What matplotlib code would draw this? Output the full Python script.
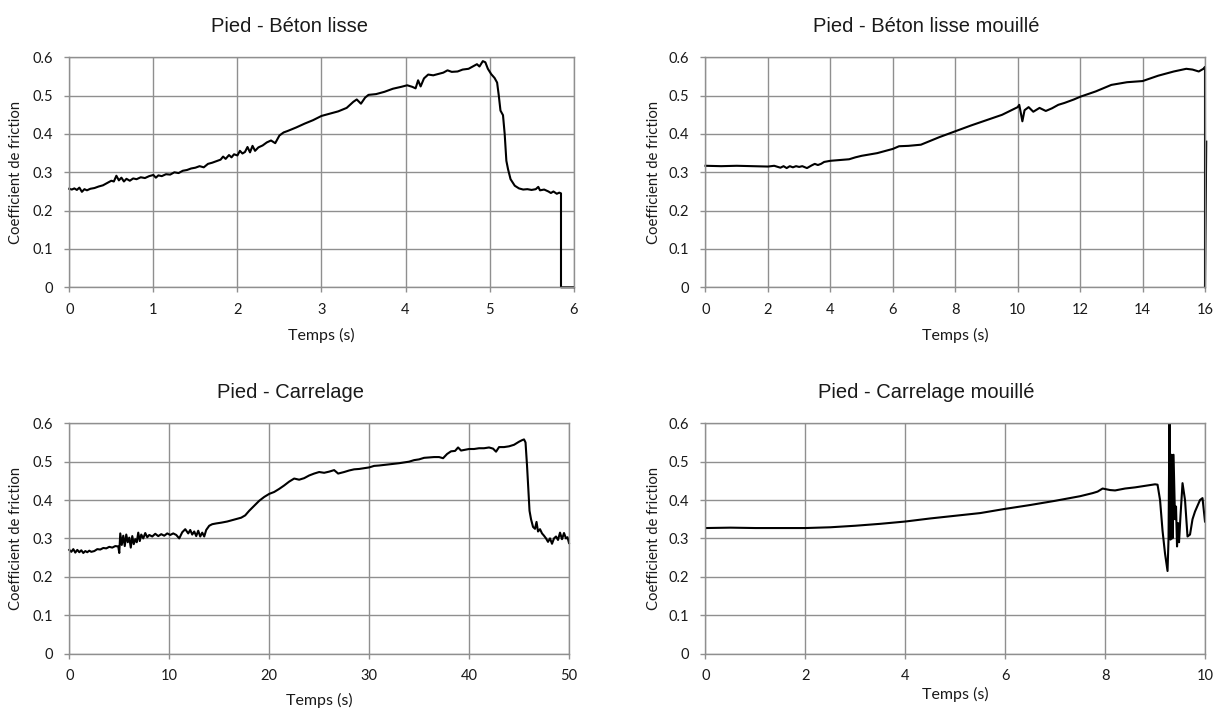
import matplotlib
matplotlib.use("Agg")
import matplotlib.pyplot as plt

# ---- Pied - Béton lisse ----
beton_t = [0.00, 0.03, 0.06, 0.09, 0.12, 0.15, 0.18, 0.21, 0.25, 0.30, 0.35, 0.40, 0.45, 0.50,
           0.53, 0.56, 0.59, 0.62, 0.65, 0.68, 0.72, 0.76, 0.80, 0.85, 0.90, 0.95, 1.00, 1.03,
           1.06, 1.10, 1.15, 1.20, 1.25, 1.30, 1.35, 1.40, 1.45, 1.50, 1.55, 1.60, 1.65, 1.70,
           1.75, 1.80, 1.83, 1.86, 1.90, 1.93, 1.96, 2.00, 2.03, 2.06, 2.09, 2.12, 2.15, 2.18,
           2.21, 2.25, 2.30, 2.35, 2.40, 2.45, 2.50, 2.55, 2.60, 2.70, 2.80, 2.90, 3.00, 3.10,
           3.20, 3.30, 3.38, 3.42, 3.47, 3.52, 3.56, 3.65, 3.75, 3.85, 3.95, 4.02, 4.08, 4.12,
           4.15, 4.18, 4.22, 4.27, 4.33, 4.40, 4.45, 4.50, 4.55, 4.62, 4.68, 4.75, 4.80, 4.85,
           4.88, 4.92, 4.95, 4.98, 5.02, 5.06, 5.09, 5.11, 5.13, 5.16, 5.18, 5.20, 5.22, 5.25,
           5.30, 5.35, 5.40, 5.45, 5.50, 5.55, 5.58, 5.60, 5.65, 5.70, 5.73, 5.76, 5.80, 5.83,
           5.85, 5.85, 6.00]
beton_mu = [0.257, 0.255, 0.258, 0.254, 0.260, 0.249, 0.256, 0.253, 0.257, 0.259, 0.263, 0.266,
            0.272, 0.278, 0.276, 0.291, 0.279, 0.286, 0.276, 0.283, 0.278, 0.284, 0.282, 0.287,
            0.285, 0.290, 0.293, 0.286, 0.292, 0.290, 0.295, 0.294, 0.300, 0.298, 0.304, 0.306,
            0.310, 0.312, 0.316, 0.313, 0.322, 0.325, 0.329, 0.333, 0.341, 0.335, 0.345, 0.339,
            0.347, 0.344, 0.356, 0.349, 0.353, 0.366, 0.352, 0.369, 0.356, 0.365, 0.370, 0.378,
            0.383, 0.376, 0.396, 0.404, 0.408, 0.417, 0.427, 0.436, 0.447, 0.453, 0.459, 0.468,
            0.484, 0.490, 0.479, 0.495, 0.502, 0.504, 0.510, 0.518, 0.523, 0.527, 0.523, 0.519,
            0.540, 0.524, 0.545, 0.555, 0.553, 0.557, 0.560, 0.566, 0.562, 0.563, 0.568, 0.570,
            0.576, 0.582, 0.576, 0.590, 0.587, 0.570, 0.556, 0.546, 0.534, 0.500, 0.461, 0.449,
            0.400, 0.330, 0.308, 0.282, 0.265, 0.258, 0.255, 0.256, 0.254, 0.256, 0.262, 0.253,
            0.255, 0.250, 0.246, 0.250, 0.244, 0.247, 0.245, 0.000, 0.000]

# ---- Pied - Béton lisse mouillé ----
beton_m_t = [0.0, 0.5, 1.0, 1.5, 2.0, 2.2, 2.4, 2.5, 2.6, 2.7, 2.8, 2.9, 3.0, 3.1, 3.25, 3.4,
             3.5, 3.6, 3.7, 3.8, 4.0, 4.3, 4.6, 4.8, 5.0, 5.5, 6.0, 6.2, 6.5, 6.9, 7.2, 7.5,
             8.0, 8.5, 9.0, 9.5, 9.8, 10.0, 10.05, 10.10, 10.15, 10.22, 10.35, 10.5, 10.7,
             10.9, 11.1, 11.3, 11.5, 11.8, 12.0, 12.5, 13.0, 13.5, 14.0, 14.5, 15.0, 15.4,
             15.6, 15.8, 15.95, 16.0, 16.0, 16.04]
beton_m_mu = [0.317, 0.316, 0.317, 0.316, 0.315, 0.317, 0.312, 0.316, 0.311, 0.316, 0.313,
              0.316, 0.314, 0.316, 0.311, 0.318, 0.322, 0.319, 0.322, 0.327, 0.330, 0.332,
              0.334, 0.339, 0.343, 0.350, 0.361, 0.368, 0.369, 0.372, 0.382, 0.392, 0.407,
              0.422, 0.436, 0.450, 0.462, 0.470, 0.476, 0.455, 0.433, 0.462, 0.470, 0.458,
              0.468, 0.460, 0.467, 0.476, 0.481, 0.490, 0.497, 0.511, 0.528, 0.535, 0.538,
              0.552, 0.563, 0.570, 0.568, 0.563, 0.570, 0.575, 0.000, 0.380]

# ---- Pied - Carrelage ----
carr_t = [0.0, 0.2, 0.4, 0.6, 0.8, 1.0, 1.2, 1.4, 1.6, 1.8, 2.0, 2.2, 2.5, 2.8, 3.1, 3.4, 3.7,
          4.0, 4.3, 4.6, 4.9, 5.0, 5.1, 5.25, 5.4, 5.55, 5.7, 5.85, 6.0, 6.15, 6.3, 6.45, 6.6,
          6.75, 6.9, 7.05, 7.2, 7.4, 7.6, 7.8, 8.0, 8.3, 8.6, 8.9, 9.2, 9.5, 9.8, 10.1, 10.4,
          10.7, 11.0, 11.3, 11.6, 11.9, 12.1, 12.3, 12.5, 12.7, 12.9, 13.1, 13.3, 13.5, 13.7,
          14.0, 14.3, 14.7, 15.2, 15.8, 16.5, 17.2, 17.6, 18.0, 18.5, 19.0, 19.5, 20.0, 20.5,
          21.0, 21.5, 22.0, 22.5, 23.0, 23.5, 24.0, 24.5, 25.0, 25.5, 26.0, 26.5, 26.9, 27.5,
          28.0, 28.5, 29.0, 29.5, 30.0, 30.5, 31.0, 32.0, 33.0, 34.0, 34.5, 35.0, 35.5, 36.0,
          36.5, 37.0, 37.4, 37.8, 38.2, 38.6, 38.9, 39.2, 39.6, 40.0, 40.5, 41.0, 41.5, 42.0,
          42.4, 42.7, 43.0, 43.5, 44.0, 44.5, 45.0, 45.3, 45.5, 45.65, 45.8, 45.95, 46.05,
          46.2, 46.4, 46.6, 46.75, 46.9, 47.1, 47.3, 47.5, 47.7, 47.9, 48.1, 48.3, 48.5, 48.7,
          48.9, 49.1, 49.3, 49.5, 49.7, 49.85, 50.0]
carr_mu = [0.270, 0.265, 0.272, 0.263, 0.270, 0.264, 0.269, 0.262, 0.267, 0.264, 0.268, 0.265,
           0.267, 0.272, 0.271, 0.275, 0.274, 0.278, 0.276, 0.280, 0.279, 0.262, 0.313, 0.283,
           0.307, 0.280, 0.310, 0.290, 0.302, 0.276, 0.306, 0.285, 0.298, 0.290, 0.315, 0.293,
           0.310, 0.300, 0.314, 0.303, 0.309, 0.305, 0.312, 0.306, 0.311, 0.307, 0.313, 0.309,
           0.313, 0.309, 0.300, 0.316, 0.324, 0.313, 0.322, 0.310, 0.318, 0.306, 0.320, 0.305,
           0.315, 0.305, 0.322, 0.333, 0.337, 0.339, 0.341, 0.344, 0.349, 0.354, 0.360, 0.372,
           0.385, 0.398, 0.408, 0.416, 0.421, 0.429, 0.438, 0.448, 0.456, 0.453, 0.457, 0.464,
           0.469, 0.473, 0.471, 0.474, 0.478, 0.469, 0.473, 0.477, 0.480, 0.481, 0.483, 0.485,
           0.489, 0.490, 0.493, 0.496, 0.500, 0.504, 0.506, 0.510, 0.511, 0.512, 0.512, 0.509,
           0.520, 0.527, 0.528, 0.537, 0.529, 0.531, 0.533, 0.533, 0.535, 0.535, 0.537, 0.534,
           0.526, 0.538, 0.538, 0.540, 0.544, 0.552, 0.556, 0.558, 0.550, 0.490, 0.420, 0.372,
           0.350, 0.330, 0.325, 0.343, 0.318, 0.324, 0.313, 0.307, 0.300, 0.291, 0.300, 0.286,
           0.300, 0.305, 0.296, 0.315, 0.298, 0.314, 0.300, 0.303, 0.288]

# ---- Pied - Carrelage mouillé ----
carr_m_t = [0.0, 0.5, 1.0, 1.5, 2.0, 2.5, 3.0, 3.5, 4.0, 4.5, 5.0, 5.5, 6.0, 6.5, 7.0, 7.5,
            7.75, 7.85, 7.95, 8.1, 8.2, 8.4, 8.6, 8.8, 9.0, 9.05, 9.1, 9.15, 9.2, 9.25, 9.27,
            9.29, 9.31, 9.33, 9.35, 9.37, 9.40, 9.42, 9.44, 9.46, 9.48, 9.51, 9.55, 9.60, 9.65,
            9.70, 9.75, 9.80, 9.90, 9.95, 10.0]
carr_m_mu = [0.327, 0.328, 0.327, 0.327, 0.327, 0.329, 0.333, 0.338, 0.344, 0.352, 0.359,
             0.366, 0.377, 0.387, 0.398, 0.410, 0.418, 0.422, 0.430, 0.426, 0.425, 0.430,
             0.433, 0.437, 0.441, 0.440, 0.400, 0.320, 0.260, 0.215, 0.300, 0.640, 0.297,
             0.518, 0.300, 0.518, 0.350, 0.383, 0.279, 0.340, 0.290, 0.360, 0.444, 0.400,
             0.305, 0.310, 0.350, 0.370, 0.400, 0.405, 0.344]

titles = ["Pied - Béton lisse", "Pied - Béton lisse mouillé",
          "Pied - Carrelage", "Pied - Carrelage mouillé"]
xlabel = "Temps (s)"
ylabel = "Coefficient de friction"
yticks = [0, 0.1, 0.2, 0.3, 0.4, 0.5, 0.6]
ytick_labels = ["0", "0.1", "0.2", "0.3", "0.4", "0.5", "0.6"]

# pixel layout: plot rectangle (left, top, right, bottom), title anchor, label anchors
panels = [
    dict(t=beton_t, mu=beton_mu, xmax=6, step=1, clip=False,
         rect=[69.3, 57.3, 573.6, 287.3], title_xy=(289.5, 32), xlab_y=340, ylab_x=16.5),
    dict(t=beton_m_t, mu=beton_m_mu, xmax=16, step=2, clip=False,
         rect=[705.5, 57.3, 1205.0, 287.3], title_xy=(926.5, 32), xlab_y=340, ylab_x=654),
    dict(t=carr_t, mu=carr_mu, xmax=50, step=10, clip=False,
         rect=[69.3, 423.3, 569.0, 653.5], title_xy=(290.5, 398), xlab_y=705, ylab_x=16.5),
    dict(t=carr_m_t, mu=carr_m_mu, xmax=10, step=2, clip=True,
         rect=[705.5, 423.3, 1205.0, 653.5], title_xy=(926.5, 398), xlab_y=699, ylab_x=654),
]

W, H = 1216, 711
GRID = "#8f8f8f"
TEXT = "#1a1a1a"
fig = plt.figure(figsize=(W / 100, H / 100), dpi=100)
fig.patch.set_facecolor("white")

for p, title in zip(panels, titles):
    x0, y0, x1, y1 = p["rect"]
    ax = fig.add_axes([x0 / W, 1 - y1 / H, (x1 - x0) / W, (y1 - y0) / H])
    ax.plot(p["t"], p["mu"], color="black", lw=1.5, solid_joinstyle="round",
            clip_on=p["clip"])
    ax.set_xlim(0, p["xmax"])
    ax.set_ylim(0, 0.6)
    ax.set_xticks(list(range(0, p["xmax"] + 1, p["step"])))
    ax.set_yticks(yticks)
    ax.set_yticklabels(ytick_labels)
    ax.grid(True, color=GRID, lw=1.0)
    ax.set_axisbelow(True)
    for s in ax.spines.values():
        s.set_color(GRID)
        s.set_linewidth(1.0)
    ax.tick_params(axis="both", direction="out", length=3.8, width=1.0, color=GRID,
                   labelsize=10.5, labelcolor=TEXT)
    ax.tick_params(axis="x", pad=7.5)
    ax.tick_params(axis="y", pad=7.8)
    for lab in ax.get_xticklabels() + ax.get_yticklabels():
        lab.set_fontfamily("Lato")

    ax.set_xlabel(xlabel, fontsize=11.5, family="Lato", color=TEXT, va="baseline")
    ax.xaxis.set_label_coords(0.5, (y1 - p["xlab_y"]) / (y1 - y0))
    ax.set_ylabel(ylabel, fontsize=10.7, family="Lato", color=TEXT, va="center")
    ax.yaxis.set_label_coords((p["ylab_x"] - x0) / (x1 - x0), 0.5)

    tx, ty = p["title_xy"]
    fig.text(tx / W, 1 - ty / H, title, ha="center", va="baseline",
             fontsize=14.5, family="Liberation Sans", color=TEXT)

fig.savefig("out.png", dpi=100)
